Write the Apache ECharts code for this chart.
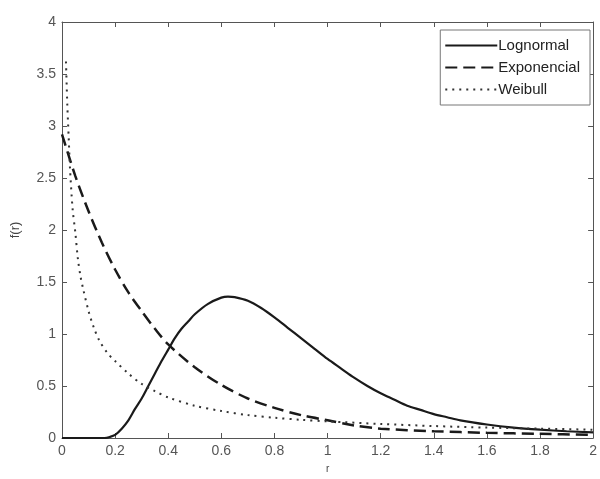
<!DOCTYPE html>
<html>
<head>
<meta charset="utf-8">
<script src="https://cdn.jsdelivr.net/npm/echarts@6/dist/echarts.min.js"></script>
<style>
html,body{margin:0;padding:0;background:#fff;}
#chart{width:600px;height:479px;}
</style>
</head>
<body>
<div id="chart"></div>
<script>
// ticks
var xTicks = [0, 0.2, 0.4, 0.6, 0.8, 1, 1.2, 1.4, 1.6, 1.8, 2];
var yTicks = [0, 0.5, 1, 1.5, 2, 2.5, 3, 3.5, 4];

// Lognormal
var rLog = [0, 0.1, 0.16, 0.18, 0.2, 0.225, 0.25, 0.275, 0.3, 0.325, 0.35, 0.375, 0.4, 0.425, 0.45, 0.475, 0.5, 0.55, 0.6, 0.625, 0.65, 0.7, 0.75, 0.8, 0.85, 0.9, 0.95, 1.0, 1.05, 1.1, 1.15, 1.2, 1.25, 1.3, 1.35, 1.4, 1.45, 1.5, 1.6, 1.7, 1.8, 1.9, 2.0];
var fLog = [0, 0, 0, 0.01, 0.03, 0.09, 0.17, 0.28, 0.38, 0.5, 0.62, 0.74, 0.85, 0.96, 1.05, 1.12, 1.19, 1.29, 1.35, 1.36, 1.355, 1.32, 1.25, 1.16, 1.06, 0.96, 0.86, 0.76, 0.67, 0.58, 0.5, 0.43, 0.37, 0.31, 0.27, 0.23, 0.2, 0.17, 0.13, 0.1, 0.08, 0.065, 0.055];

// Exponencial
var rExp = [0, 0.05, 0.1, 0.15, 0.2, 0.25, 0.3, 0.35, 0.4, 0.5, 0.6, 0.7, 0.8, 0.9, 1.0, 1.1, 1.2, 1.4, 1.6, 1.8, 2.0];
var fExp = [2.92, 2.52, 2.18, 1.88, 1.62, 1.4, 1.22, 1.05, 0.9, 0.68, 0.51, 0.38, 0.29, 0.22, 0.17, 0.12, 0.09, 0.065, 0.05, 0.04, 0.03];

// Weibull
var rWei = [0.015, 0.02, 0.025, 0.03, 0.04, 0.05, 0.06, 0.07, 0.08, 0.1, 0.12, 0.14, 0.17, 0.2, 0.25, 0.3, 0.35, 0.4, 0.5, 0.6, 0.7, 0.8, 0.9, 1.0, 1.2, 1.4, 1.6, 1.8, 2.0];
var fWei = [3.62, 3.2, 2.9, 2.6, 2.2, 1.98, 1.72, 1.55, 1.43, 1.22, 1.06, 0.94, 0.82, 0.74, 0.62, 0.52, 0.45, 0.39, 0.31, 0.26, 0.22, 0.195, 0.175, 0.16, 0.135, 0.115, 0.1, 0.09, 0.08];

function pairs(xs, ys){
	return xs.map(function(x, i){ return [x, ys[i]]; });
}

var font = 'Liberation Sans, Arial, sans-serif';
var axisCol = '#555';

var chart = echarts.init(document.getElementById('chart'));

var baseX = {
	type: 'value', min: 0, max: 2, interval: 0.2,
	axisLine: {onZero: false, lineStyle: {color: axisCol, width: 1}},
	axisTick: {inside: true, length: 5, lineStyle: {color: axisCol}},
	splitLine: {show: false}
};
var baseY = {
	type: 'value', min: 0, max: 4, interval: 0.5,
	axisLine: {onZero: false, lineStyle: {color: axisCol, width: 1}},
	axisTick: {inside: true, length: 5, lineStyle: {color: axisCol}},
	splitLine: {show: false}
};

chart.setOption({
	animation: false,
	backgroundColor: '#fff',
	textStyle: {fontFamily: font},
	grid: {left: 62, right: 5, top: 22, bottom: 39, containLabel: false},
	legend: {
		orient: 'vertical',
		right: 10, top: 30,
		padding: [8, 10, 8, 4],
		itemGap: 7,
		itemWidth: 52, itemHeight: 14,
		itemStyle: {opacity: 0},
		backgroundColor: '#fff',
		borderColor: '#777', borderWidth: 1,
		textStyle: {fontFamily: font, fontSize: 15, color: '#222', padding: [0, 4, 0, -4]},
		data: ['Lognormal', 'Exponencial', 'Weibull']
	},
	xAxis: [
		Object.assign({}, baseX, {
			position: 'bottom',
			name: 'r', nameLocation: 'middle', nameGap: 26,
			nameTextStyle: {fontSize: 10, color: '#444', fontFamily: font},
			axisLabel: {
				color: '#555', fontSize: 14, fontFamily: font, margin: 6,
				formatter: function(v){ var t = +v.toFixed(1); return xTicks.indexOf(t) >= 0 ? String(t) : ''; }
			}
		}),
		Object.assign({}, baseX, {position: 'top', axisLabel: {show: false}})
	],
	yAxis: [
		Object.assign({}, baseY, {
			position: 'left',
			name: 'f(r)', nameLocation: 'middle', nameGap: 40, nameRotate: 90,
			nameTextStyle: {fontSize: 13, color: '#444', fontFamily: font},
			axisLabel: {
				color: '#555', fontSize: 14, fontFamily: font, margin: 6,
				formatter: function(v){ return yTicks.indexOf(v) >= 0 ? String(v) : ''; }
			}
		}),
		Object.assign({}, baseY, {position: 'right', axisLabel: {show: false}})
	],
	series: [
		{
			name: 'Lognormal', type: 'line', symbol: 'none', smooth: 0.3,
			xAxisIndex: 0, yAxisIndex: 0, z: 3,
			lineStyle: {color: '#1a1a1a', width: 2.2, type: 'solid'},
			itemStyle: {color: '#1a1a1a'},
			data: pairs(rLog, fLog)
		},
		{
			name: 'Exponencial', type: 'line', symbol: 'none', smooth: 0.3,
			xAxisIndex: 0, yAxisIndex: 0,
			lineStyle: {color: '#1a1a1a', width: 2.5, type: [12, 6]},
			itemStyle: {color: '#1a1a1a'},
			data: pairs(rExp, fExp)
		},
		{
			name: 'Weibull', type: 'line', symbol: 'none', smooth: 0.3,
			xAxisIndex: 0, yAxisIndex: 0,
			lineStyle: {color: '#333', width: 2, type: [2, 5]},
			itemStyle: {color: '#333'},
			data: pairs(rWei, fWei)
		}
	]
});
</script>
</body>
</html>
